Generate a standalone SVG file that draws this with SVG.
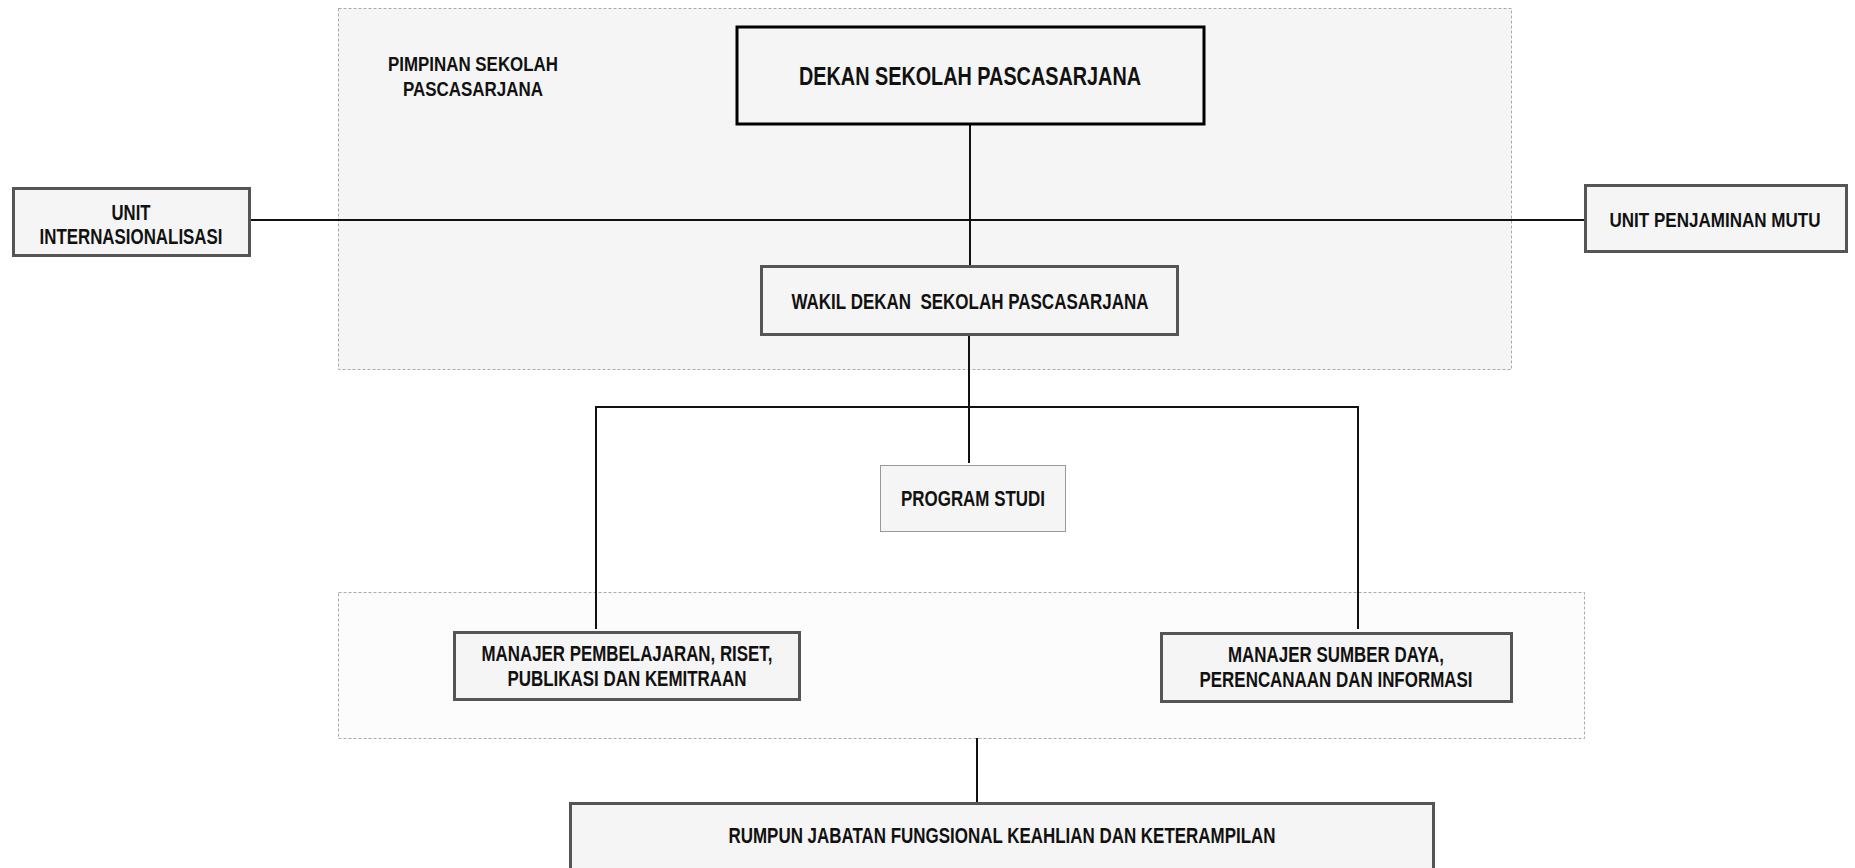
<svg xmlns="http://www.w3.org/2000/svg" width="1855" height="868" viewBox="0 0 1855 868">
<style>
text{font-family:"Liberation Sans Narrow","Liberation Sans",Arial,sans-serif;font-weight:bold;fill:#111;text-anchor:middle;dominant-baseline:central}
.grp{stroke:#aaa;stroke-width:1;stroke-dasharray:3,2}
.box{fill:#f5f5f5;stroke:#555;stroke-width:3}
.con{stroke:#111;stroke-width:2;fill:none}
</style>
<rect width="1855" height="868" fill="#fff"/>
<g id="group-pimpinan">
<rect class="grp" x="338.5" y="8.5" width="1173" height="361" fill="#f5f5f5"/>
<text x="473" y="63" font-size="20.5" textLength="170" lengthAdjust="spacingAndGlyphs">PIMPINAN SEKOLAH</text>
<text x="473" y="88" font-size="20.5" textLength="140" lengthAdjust="spacingAndGlyphs">PASCASARJANA</text>
</g>
<g id="group-manajer">
<rect class="grp" x="338.5" y="592.5" width="1246" height="146" fill="#fcfcfc"/>
</g>
<g id="connectors">
<line class="con" x1="250" y1="220" x2="1585" y2="220"/>
<line class="con" x1="970" y1="124" x2="970" y2="266"/>
<line class="con" x1="969" y1="335" x2="969" y2="463"/>
<polyline class="con" points="596,629 596,407 1358,407 1358,629"/>
<line class="con" x1="977" y1="738" x2="977" y2="803"/>
</g>
<g id="dekan">
<rect x="737" y="27" width="467" height="97" fill="#f5f5f5" stroke="#000" stroke-width="3"/>
<text x="970" y="76" font-size="26" textLength="342" lengthAdjust="spacingAndGlyphs">DEKAN SEKOLAH PASCASARJANA</text>
</g>
<g id="unit-internasionalisasi">
<rect class="box" x="13.5" y="188.5" width="236" height="67"/>
<text x="131" y="213" font-size="21.5" textLength="39" lengthAdjust="spacingAndGlyphs">UNIT</text>
<text x="131" y="237" font-size="21.5" textLength="183" lengthAdjust="spacingAndGlyphs">INTERNASIONALISASI</text>
</g>
<g id="unit-penjaminan-mutu">
<rect class="box" x="1585.5" y="185.5" width="261" height="66"/>
<text x="1715" y="220" font-size="20" textLength="211" lengthAdjust="spacingAndGlyphs">UNIT PENJAMINAN MUTU</text>
</g>
<g id="wakil-dekan">
<rect class="box" x="761.5" y="266.5" width="416" height="68"/>
<text x="970" y="302" font-size="21.5" textLength="357" lengthAdjust="spacingAndGlyphs" xml:space="preserve">WAKIL DEKAN  SEKOLAH PASCASARJANA</text>
</g>
<g id="program-studi">
<rect x="880.5" y="465.5" width="185" height="66" fill="#f5f5f5" stroke="#999" stroke-width="1"/>
<text x="973" y="499" font-size="21.5" textLength="144" lengthAdjust="spacingAndGlyphs">PROGRAM STUDI</text>
</g>
<g id="manajer-pembelajaran">
<rect class="box" x="454.5" y="632.5" width="345" height="67"/>
<text x="627" y="654" font-size="21.5" textLength="291" lengthAdjust="spacingAndGlyphs">MANAJER PEMBELAJARAN, RISET,</text>
<text x="627" y="679" font-size="21.5" textLength="239" lengthAdjust="spacingAndGlyphs">PUBLIKASI DAN KEMITRAAN</text>
</g>
<g id="manajer-sumber-daya">
<rect class="box" x="1161.5" y="633.5" width="350" height="68"/>
<text x="1336" y="655" font-size="21.5" textLength="216" lengthAdjust="spacingAndGlyphs">MANAJER SUMBER DAYA,</text>
<text x="1336" y="680" font-size="21.5" textLength="273" lengthAdjust="spacingAndGlyphs">PERENCANAAN DAN INFORMASI</text>
</g>
<g id="rumpun">
<rect class="box" x="570.5" y="803.5" width="863" height="80"/>
<text x="1002" y="836" font-size="21.5" textLength="547" lengthAdjust="spacingAndGlyphs">RUMPUN JABATAN FUNGSIONAL KEAHLIAN DAN KETERAMPILAN</text>
</g>
</svg>
